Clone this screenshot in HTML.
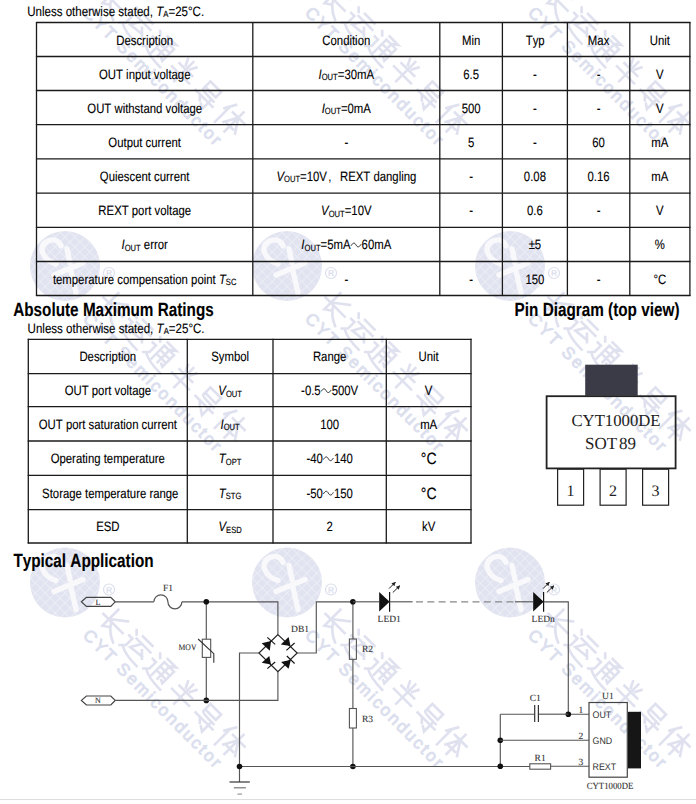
<!DOCTYPE html>
<html><head><meta charset="utf-8"><style>
html,body{margin:0;padding:0;background:#fff;width:696px;height:804px;overflow:hidden}
svg{display:block;font-kerning:none;text-rendering:geometricPrecision}
text{white-space:pre}
</style></head><body>
<svg width="696" height="804" viewBox="0 0 696 804" xml:space="preserve">
<rect width="696" height="804" fill="#fff"/>
<defs><pattern id="hatch" patternUnits="userSpaceOnUse" width="7" height="7" patternTransform="rotate(45)"><rect width="7" height="7" fill="#e1e3f0"/><path d="M0,0 H7 M0,0 V7" stroke="#eef0f7" stroke-width="1.6"/></pattern></defs>
<g transform="translate(65,-40)">
<circle cx="0" cy="0" r="35" fill="url(#hatch)"/>
<path d="M-9,-2 C-22,-6 -27,-18 -19,-24 C-13,-28 -6,-26 -4,-20 M2,-17 L5,-3 M-11,9 L18,-3 M6,5 L11,27" fill="none" stroke="#f9f9fc" stroke-width="5.4" stroke-linecap="round" stroke-linejoin="round"/>
<circle cx="44" cy="7" r="5.5" fill="none" stroke="#dcdfee" stroke-width="1.2"/>
<text x="44" y="10.3" text-anchor="middle" font-family='"Liberation Sans", sans-serif' font-size="8.5" font-weight="bold" fill="#dcdfee">R</text>
<g transform="rotate(45)">
<path transform="translate(48.0,-20) scale(1.5)" d="M6,1 V16 L9,14 M16,2 L7,9 M1,10 H19 M9,11 Q12,16 19,19" fill="none" stroke="#dfe1ef" stroke-width="1.75" stroke-linecap="square"/>
<path transform="translate(81.3,-20) scale(1.5)" d="M8,2 H17 M6,6 H19 M11,6 L7,13 L17,12 M14,9 L18,13 M2,2 L4,4 M1,8 H4 V14 L1,17 M3,16 Q8,19 19,19" fill="none" stroke="#dfe1ef" stroke-width="1.75" stroke-linecap="square"/>
<path transform="translate(114.6,-20) scale(1.5)" d="M8,1 H16 L12,4 M8,4 H17 V15 L15,14 M8,4 V16 M8,8 H17 M8,11.5 H17 M12.5,4 V15 M2,2 L4,4 M1,8 H4 V14 L1,17 M3,16 Q8,19 19,19" fill="none" stroke="#dfe1ef" stroke-width="1.75" stroke-linecap="square"/>
<path transform="translate(147.89999999999998,-20) scale(1.5)" d="M6,2 L8,6 M14,2 L12,6 M4,8 H16 M2,13 H18 M10,1 V19" fill="none" stroke="#dfe1ef" stroke-width="1.75" stroke-linecap="square"/>
<path transform="translate(181.2,-20) scale(1.5)" d="M5,2 H15 V7 H5 V2 M5,7 V9 Q5,10 16,10 M2,13 H18 M14,11 V19 L11,17 M7,14 L9,16" fill="none" stroke="#dfe1ef" stroke-width="1.75" stroke-linecap="square"/>
<path transform="translate(214.5,-20) scale(1.5)" d="M6,1 L2,8 M4,6 V19 M8,6 H19 M13,1 V19 M13,6 L8,15 M13,6 L19,15 M10,14 H16" fill="none" stroke="#dfe1ef" stroke-width="1.75" stroke-linecap="square"/>
<text x="50" y="26" font-family='"Liberation Sans", sans-serif' font-size="17" fill="#dcdfee" letter-spacing="2.2" stroke="#dcdfee" stroke-width="0.9">CYT Semiconductor</text>
</g></g>
<g transform="translate(65,266)">
<circle cx="0" cy="0" r="35" fill="url(#hatch)"/>
<path d="M-9,-2 C-22,-6 -27,-18 -19,-24 C-13,-28 -6,-26 -4,-20 M2,-17 L5,-3 M-11,9 L18,-3 M6,5 L11,27" fill="none" stroke="#f9f9fc" stroke-width="5.4" stroke-linecap="round" stroke-linejoin="round"/>
<circle cx="44" cy="7" r="5.5" fill="none" stroke="#dcdfee" stroke-width="1.2"/>
<text x="44" y="10.3" text-anchor="middle" font-family='"Liberation Sans", sans-serif' font-size="8.5" font-weight="bold" fill="#dcdfee">R</text>
<g transform="rotate(45)">
<path transform="translate(48.0,-20) scale(1.5)" d="M6,1 V16 L9,14 M16,2 L7,9 M1,10 H19 M9,11 Q12,16 19,19" fill="none" stroke="#dfe1ef" stroke-width="1.75" stroke-linecap="square"/>
<path transform="translate(81.3,-20) scale(1.5)" d="M8,2 H17 M6,6 H19 M11,6 L7,13 L17,12 M14,9 L18,13 M2,2 L4,4 M1,8 H4 V14 L1,17 M3,16 Q8,19 19,19" fill="none" stroke="#dfe1ef" stroke-width="1.75" stroke-linecap="square"/>
<path transform="translate(114.6,-20) scale(1.5)" d="M8,1 H16 L12,4 M8,4 H17 V15 L15,14 M8,4 V16 M8,8 H17 M8,11.5 H17 M12.5,4 V15 M2,2 L4,4 M1,8 H4 V14 L1,17 M3,16 Q8,19 19,19" fill="none" stroke="#dfe1ef" stroke-width="1.75" stroke-linecap="square"/>
<path transform="translate(147.89999999999998,-20) scale(1.5)" d="M6,2 L8,6 M14,2 L12,6 M4,8 H16 M2,13 H18 M10,1 V19" fill="none" stroke="#dfe1ef" stroke-width="1.75" stroke-linecap="square"/>
<path transform="translate(181.2,-20) scale(1.5)" d="M5,2 H15 V7 H5 V2 M5,7 V9 Q5,10 16,10 M2,13 H18 M14,11 V19 L11,17 M7,14 L9,16" fill="none" stroke="#dfe1ef" stroke-width="1.75" stroke-linecap="square"/>
<path transform="translate(214.5,-20) scale(1.5)" d="M6,1 L2,8 M4,6 V19 M8,6 H19 M13,1 V19 M13,6 L8,15 M13,6 L19,15 M10,14 H16" fill="none" stroke="#dfe1ef" stroke-width="1.75" stroke-linecap="square"/>
<text x="50" y="26" font-family='"Liberation Sans", sans-serif' font-size="17" fill="#dcdfee" letter-spacing="2.2" stroke="#dcdfee" stroke-width="0.9">CYT Semiconductor</text>
</g></g>
<g transform="translate(65,582.5)">
<circle cx="0" cy="0" r="35" fill="url(#hatch)"/>
<path d="M-9,-2 C-22,-6 -27,-18 -19,-24 C-13,-28 -6,-26 -4,-20 M2,-17 L5,-3 M-11,9 L18,-3 M6,5 L11,27" fill="none" stroke="#f9f9fc" stroke-width="5.4" stroke-linecap="round" stroke-linejoin="round"/>
<circle cx="44" cy="7" r="5.5" fill="none" stroke="#dcdfee" stroke-width="1.2"/>
<text x="44" y="10.3" text-anchor="middle" font-family='"Liberation Sans", sans-serif' font-size="8.5" font-weight="bold" fill="#dcdfee">R</text>
<g transform="rotate(45)">
<path transform="translate(48.0,-20) scale(1.5)" d="M6,1 V16 L9,14 M16,2 L7,9 M1,10 H19 M9,11 Q12,16 19,19" fill="none" stroke="#dfe1ef" stroke-width="1.75" stroke-linecap="square"/>
<path transform="translate(81.3,-20) scale(1.5)" d="M8,2 H17 M6,6 H19 M11,6 L7,13 L17,12 M14,9 L18,13 M2,2 L4,4 M1,8 H4 V14 L1,17 M3,16 Q8,19 19,19" fill="none" stroke="#dfe1ef" stroke-width="1.75" stroke-linecap="square"/>
<path transform="translate(114.6,-20) scale(1.5)" d="M8,1 H16 L12,4 M8,4 H17 V15 L15,14 M8,4 V16 M8,8 H17 M8,11.5 H17 M12.5,4 V15 M2,2 L4,4 M1,8 H4 V14 L1,17 M3,16 Q8,19 19,19" fill="none" stroke="#dfe1ef" stroke-width="1.75" stroke-linecap="square"/>
<path transform="translate(147.89999999999998,-20) scale(1.5)" d="M6,2 L8,6 M14,2 L12,6 M4,8 H16 M2,13 H18 M10,1 V19" fill="none" stroke="#dfe1ef" stroke-width="1.75" stroke-linecap="square"/>
<path transform="translate(181.2,-20) scale(1.5)" d="M5,2 H15 V7 H5 V2 M5,7 V9 Q5,10 16,10 M2,13 H18 M14,11 V19 L11,17 M7,14 L9,16" fill="none" stroke="#dfe1ef" stroke-width="1.75" stroke-linecap="square"/>
<path transform="translate(214.5,-20) scale(1.5)" d="M6,1 L2,8 M4,6 V19 M8,6 H19 M13,1 V19 M13,6 L8,15 M13,6 L19,15 M10,14 H16" fill="none" stroke="#dfe1ef" stroke-width="1.75" stroke-linecap="square"/>
<text x="50" y="26" font-family='"Liberation Sans", sans-serif' font-size="17" fill="#dcdfee" letter-spacing="2.2" stroke="#dcdfee" stroke-width="0.9">CYT Semiconductor</text>
</g></g>
<g transform="translate(287,-40)">
<circle cx="0" cy="0" r="35" fill="url(#hatch)"/>
<path d="M-9,-2 C-22,-6 -27,-18 -19,-24 C-13,-28 -6,-26 -4,-20 M2,-17 L5,-3 M-11,9 L18,-3 M6,5 L11,27" fill="none" stroke="#f9f9fc" stroke-width="5.4" stroke-linecap="round" stroke-linejoin="round"/>
<circle cx="44" cy="7" r="5.5" fill="none" stroke="#dcdfee" stroke-width="1.2"/>
<text x="44" y="10.3" text-anchor="middle" font-family='"Liberation Sans", sans-serif' font-size="8.5" font-weight="bold" fill="#dcdfee">R</text>
<g transform="rotate(45)">
<path transform="translate(48.0,-20) scale(1.5)" d="M6,1 V16 L9,14 M16,2 L7,9 M1,10 H19 M9,11 Q12,16 19,19" fill="none" stroke="#dfe1ef" stroke-width="1.75" stroke-linecap="square"/>
<path transform="translate(81.3,-20) scale(1.5)" d="M8,2 H17 M6,6 H19 M11,6 L7,13 L17,12 M14,9 L18,13 M2,2 L4,4 M1,8 H4 V14 L1,17 M3,16 Q8,19 19,19" fill="none" stroke="#dfe1ef" stroke-width="1.75" stroke-linecap="square"/>
<path transform="translate(114.6,-20) scale(1.5)" d="M8,1 H16 L12,4 M8,4 H17 V15 L15,14 M8,4 V16 M8,8 H17 M8,11.5 H17 M12.5,4 V15 M2,2 L4,4 M1,8 H4 V14 L1,17 M3,16 Q8,19 19,19" fill="none" stroke="#dfe1ef" stroke-width="1.75" stroke-linecap="square"/>
<path transform="translate(147.89999999999998,-20) scale(1.5)" d="M6,2 L8,6 M14,2 L12,6 M4,8 H16 M2,13 H18 M10,1 V19" fill="none" stroke="#dfe1ef" stroke-width="1.75" stroke-linecap="square"/>
<path transform="translate(181.2,-20) scale(1.5)" d="M5,2 H15 V7 H5 V2 M5,7 V9 Q5,10 16,10 M2,13 H18 M14,11 V19 L11,17 M7,14 L9,16" fill="none" stroke="#dfe1ef" stroke-width="1.75" stroke-linecap="square"/>
<path transform="translate(214.5,-20) scale(1.5)" d="M6,1 L2,8 M4,6 V19 M8,6 H19 M13,1 V19 M13,6 L8,15 M13,6 L19,15 M10,14 H16" fill="none" stroke="#dfe1ef" stroke-width="1.75" stroke-linecap="square"/>
<text x="50" y="26" font-family='"Liberation Sans", sans-serif' font-size="17" fill="#dcdfee" letter-spacing="2.2" stroke="#dcdfee" stroke-width="0.9">CYT Semiconductor</text>
</g></g>
<g transform="translate(287,266)">
<circle cx="0" cy="0" r="35" fill="url(#hatch)"/>
<path d="M-9,-2 C-22,-6 -27,-18 -19,-24 C-13,-28 -6,-26 -4,-20 M2,-17 L5,-3 M-11,9 L18,-3 M6,5 L11,27" fill="none" stroke="#f9f9fc" stroke-width="5.4" stroke-linecap="round" stroke-linejoin="round"/>
<circle cx="44" cy="7" r="5.5" fill="none" stroke="#dcdfee" stroke-width="1.2"/>
<text x="44" y="10.3" text-anchor="middle" font-family='"Liberation Sans", sans-serif' font-size="8.5" font-weight="bold" fill="#dcdfee">R</text>
<g transform="rotate(45)">
<path transform="translate(48.0,-20) scale(1.5)" d="M6,1 V16 L9,14 M16,2 L7,9 M1,10 H19 M9,11 Q12,16 19,19" fill="none" stroke="#dfe1ef" stroke-width="1.75" stroke-linecap="square"/>
<path transform="translate(81.3,-20) scale(1.5)" d="M8,2 H17 M6,6 H19 M11,6 L7,13 L17,12 M14,9 L18,13 M2,2 L4,4 M1,8 H4 V14 L1,17 M3,16 Q8,19 19,19" fill="none" stroke="#dfe1ef" stroke-width="1.75" stroke-linecap="square"/>
<path transform="translate(114.6,-20) scale(1.5)" d="M8,1 H16 L12,4 M8,4 H17 V15 L15,14 M8,4 V16 M8,8 H17 M8,11.5 H17 M12.5,4 V15 M2,2 L4,4 M1,8 H4 V14 L1,17 M3,16 Q8,19 19,19" fill="none" stroke="#dfe1ef" stroke-width="1.75" stroke-linecap="square"/>
<path transform="translate(147.89999999999998,-20) scale(1.5)" d="M6,2 L8,6 M14,2 L12,6 M4,8 H16 M2,13 H18 M10,1 V19" fill="none" stroke="#dfe1ef" stroke-width="1.75" stroke-linecap="square"/>
<path transform="translate(181.2,-20) scale(1.5)" d="M5,2 H15 V7 H5 V2 M5,7 V9 Q5,10 16,10 M2,13 H18 M14,11 V19 L11,17 M7,14 L9,16" fill="none" stroke="#dfe1ef" stroke-width="1.75" stroke-linecap="square"/>
<path transform="translate(214.5,-20) scale(1.5)" d="M6,1 L2,8 M4,6 V19 M8,6 H19 M13,1 V19 M13,6 L8,15 M13,6 L19,15 M10,14 H16" fill="none" stroke="#dfe1ef" stroke-width="1.75" stroke-linecap="square"/>
<text x="50" y="26" font-family='"Liberation Sans", sans-serif' font-size="17" fill="#dcdfee" letter-spacing="2.2" stroke="#dcdfee" stroke-width="0.9">CYT Semiconductor</text>
</g></g>
<g transform="translate(287,582.5)">
<circle cx="0" cy="0" r="35" fill="url(#hatch)"/>
<path d="M-9,-2 C-22,-6 -27,-18 -19,-24 C-13,-28 -6,-26 -4,-20 M2,-17 L5,-3 M-11,9 L18,-3 M6,5 L11,27" fill="none" stroke="#f9f9fc" stroke-width="5.4" stroke-linecap="round" stroke-linejoin="round"/>
<circle cx="44" cy="7" r="5.5" fill="none" stroke="#dcdfee" stroke-width="1.2"/>
<text x="44" y="10.3" text-anchor="middle" font-family='"Liberation Sans", sans-serif' font-size="8.5" font-weight="bold" fill="#dcdfee">R</text>
<g transform="rotate(45)">
<path transform="translate(48.0,-20) scale(1.5)" d="M6,1 V16 L9,14 M16,2 L7,9 M1,10 H19 M9,11 Q12,16 19,19" fill="none" stroke="#dfe1ef" stroke-width="1.75" stroke-linecap="square"/>
<path transform="translate(81.3,-20) scale(1.5)" d="M8,2 H17 M6,6 H19 M11,6 L7,13 L17,12 M14,9 L18,13 M2,2 L4,4 M1,8 H4 V14 L1,17 M3,16 Q8,19 19,19" fill="none" stroke="#dfe1ef" stroke-width="1.75" stroke-linecap="square"/>
<path transform="translate(114.6,-20) scale(1.5)" d="M8,1 H16 L12,4 M8,4 H17 V15 L15,14 M8,4 V16 M8,8 H17 M8,11.5 H17 M12.5,4 V15 M2,2 L4,4 M1,8 H4 V14 L1,17 M3,16 Q8,19 19,19" fill="none" stroke="#dfe1ef" stroke-width="1.75" stroke-linecap="square"/>
<path transform="translate(147.89999999999998,-20) scale(1.5)" d="M6,2 L8,6 M14,2 L12,6 M4,8 H16 M2,13 H18 M10,1 V19" fill="none" stroke="#dfe1ef" stroke-width="1.75" stroke-linecap="square"/>
<path transform="translate(181.2,-20) scale(1.5)" d="M5,2 H15 V7 H5 V2 M5,7 V9 Q5,10 16,10 M2,13 H18 M14,11 V19 L11,17 M7,14 L9,16" fill="none" stroke="#dfe1ef" stroke-width="1.75" stroke-linecap="square"/>
<path transform="translate(214.5,-20) scale(1.5)" d="M6,1 L2,8 M4,6 V19 M8,6 H19 M13,1 V19 M13,6 L8,15 M13,6 L19,15 M10,14 H16" fill="none" stroke="#dfe1ef" stroke-width="1.75" stroke-linecap="square"/>
<text x="50" y="26" font-family='"Liberation Sans", sans-serif' font-size="17" fill="#dcdfee" letter-spacing="2.2" stroke="#dcdfee" stroke-width="0.9">CYT Semiconductor</text>
</g></g>
<g transform="translate(510,-40)">
<circle cx="0" cy="0" r="35" fill="url(#hatch)"/>
<path d="M-9,-2 C-22,-6 -27,-18 -19,-24 C-13,-28 -6,-26 -4,-20 M2,-17 L5,-3 M-11,9 L18,-3 M6,5 L11,27" fill="none" stroke="#f9f9fc" stroke-width="5.4" stroke-linecap="round" stroke-linejoin="round"/>
<circle cx="44" cy="7" r="5.5" fill="none" stroke="#dcdfee" stroke-width="1.2"/>
<text x="44" y="10.3" text-anchor="middle" font-family='"Liberation Sans", sans-serif' font-size="8.5" font-weight="bold" fill="#dcdfee">R</text>
<g transform="rotate(45)">
<path transform="translate(48.0,-20) scale(1.5)" d="M6,1 V16 L9,14 M16,2 L7,9 M1,10 H19 M9,11 Q12,16 19,19" fill="none" stroke="#dfe1ef" stroke-width="1.75" stroke-linecap="square"/>
<path transform="translate(81.3,-20) scale(1.5)" d="M8,2 H17 M6,6 H19 M11,6 L7,13 L17,12 M14,9 L18,13 M2,2 L4,4 M1,8 H4 V14 L1,17 M3,16 Q8,19 19,19" fill="none" stroke="#dfe1ef" stroke-width="1.75" stroke-linecap="square"/>
<path transform="translate(114.6,-20) scale(1.5)" d="M8,1 H16 L12,4 M8,4 H17 V15 L15,14 M8,4 V16 M8,8 H17 M8,11.5 H17 M12.5,4 V15 M2,2 L4,4 M1,8 H4 V14 L1,17 M3,16 Q8,19 19,19" fill="none" stroke="#dfe1ef" stroke-width="1.75" stroke-linecap="square"/>
<path transform="translate(147.89999999999998,-20) scale(1.5)" d="M6,2 L8,6 M14,2 L12,6 M4,8 H16 M2,13 H18 M10,1 V19" fill="none" stroke="#dfe1ef" stroke-width="1.75" stroke-linecap="square"/>
<path transform="translate(181.2,-20) scale(1.5)" d="M5,2 H15 V7 H5 V2 M5,7 V9 Q5,10 16,10 M2,13 H18 M14,11 V19 L11,17 M7,14 L9,16" fill="none" stroke="#dfe1ef" stroke-width="1.75" stroke-linecap="square"/>
<path transform="translate(214.5,-20) scale(1.5)" d="M6,1 L2,8 M4,6 V19 M8,6 H19 M13,1 V19 M13,6 L8,15 M13,6 L19,15 M10,14 H16" fill="none" stroke="#dfe1ef" stroke-width="1.75" stroke-linecap="square"/>
<text x="50" y="26" font-family='"Liberation Sans", sans-serif' font-size="17" fill="#dcdfee" letter-spacing="2.2" stroke="#dcdfee" stroke-width="0.9">CYT Semiconductor</text>
</g></g>
<g transform="translate(510,266)">
<circle cx="0" cy="0" r="35" fill="url(#hatch)"/>
<path d="M-9,-2 C-22,-6 -27,-18 -19,-24 C-13,-28 -6,-26 -4,-20 M2,-17 L5,-3 M-11,9 L18,-3 M6,5 L11,27" fill="none" stroke="#f9f9fc" stroke-width="5.4" stroke-linecap="round" stroke-linejoin="round"/>
<circle cx="44" cy="7" r="5.5" fill="none" stroke="#dcdfee" stroke-width="1.2"/>
<text x="44" y="10.3" text-anchor="middle" font-family='"Liberation Sans", sans-serif' font-size="8.5" font-weight="bold" fill="#dcdfee">R</text>
<g transform="rotate(45)">
<path transform="translate(48.0,-20) scale(1.5)" d="M6,1 V16 L9,14 M16,2 L7,9 M1,10 H19 M9,11 Q12,16 19,19" fill="none" stroke="#dfe1ef" stroke-width="1.75" stroke-linecap="square"/>
<path transform="translate(81.3,-20) scale(1.5)" d="M8,2 H17 M6,6 H19 M11,6 L7,13 L17,12 M14,9 L18,13 M2,2 L4,4 M1,8 H4 V14 L1,17 M3,16 Q8,19 19,19" fill="none" stroke="#dfe1ef" stroke-width="1.75" stroke-linecap="square"/>
<path transform="translate(114.6,-20) scale(1.5)" d="M8,1 H16 L12,4 M8,4 H17 V15 L15,14 M8,4 V16 M8,8 H17 M8,11.5 H17 M12.5,4 V15 M2,2 L4,4 M1,8 H4 V14 L1,17 M3,16 Q8,19 19,19" fill="none" stroke="#dfe1ef" stroke-width="1.75" stroke-linecap="square"/>
<path transform="translate(147.89999999999998,-20) scale(1.5)" d="M6,2 L8,6 M14,2 L12,6 M4,8 H16 M2,13 H18 M10,1 V19" fill="none" stroke="#dfe1ef" stroke-width="1.75" stroke-linecap="square"/>
<path transform="translate(181.2,-20) scale(1.5)" d="M5,2 H15 V7 H5 V2 M5,7 V9 Q5,10 16,10 M2,13 H18 M14,11 V19 L11,17 M7,14 L9,16" fill="none" stroke="#dfe1ef" stroke-width="1.75" stroke-linecap="square"/>
<path transform="translate(214.5,-20) scale(1.5)" d="M6,1 L2,8 M4,6 V19 M8,6 H19 M13,1 V19 M13,6 L8,15 M13,6 L19,15 M10,14 H16" fill="none" stroke="#dfe1ef" stroke-width="1.75" stroke-linecap="square"/>
<text x="50" y="26" font-family='"Liberation Sans", sans-serif' font-size="17" fill="#dcdfee" letter-spacing="2.2" stroke="#dcdfee" stroke-width="0.9">CYT Semiconductor</text>
</g></g>
<g transform="translate(510,582.5)">
<circle cx="0" cy="0" r="35" fill="url(#hatch)"/>
<path d="M-9,-2 C-22,-6 -27,-18 -19,-24 C-13,-28 -6,-26 -4,-20 M2,-17 L5,-3 M-11,9 L18,-3 M6,5 L11,27" fill="none" stroke="#f9f9fc" stroke-width="5.4" stroke-linecap="round" stroke-linejoin="round"/>
<circle cx="44" cy="7" r="5.5" fill="none" stroke="#dcdfee" stroke-width="1.2"/>
<text x="44" y="10.3" text-anchor="middle" font-family='"Liberation Sans", sans-serif' font-size="8.5" font-weight="bold" fill="#dcdfee">R</text>
<g transform="rotate(45)">
<path transform="translate(48.0,-20) scale(1.5)" d="M6,1 V16 L9,14 M16,2 L7,9 M1,10 H19 M9,11 Q12,16 19,19" fill="none" stroke="#dfe1ef" stroke-width="1.75" stroke-linecap="square"/>
<path transform="translate(81.3,-20) scale(1.5)" d="M8,2 H17 M6,6 H19 M11,6 L7,13 L17,12 M14,9 L18,13 M2,2 L4,4 M1,8 H4 V14 L1,17 M3,16 Q8,19 19,19" fill="none" stroke="#dfe1ef" stroke-width="1.75" stroke-linecap="square"/>
<path transform="translate(114.6,-20) scale(1.5)" d="M8,1 H16 L12,4 M8,4 H17 V15 L15,14 M8,4 V16 M8,8 H17 M8,11.5 H17 M12.5,4 V15 M2,2 L4,4 M1,8 H4 V14 L1,17 M3,16 Q8,19 19,19" fill="none" stroke="#dfe1ef" stroke-width="1.75" stroke-linecap="square"/>
<path transform="translate(147.89999999999998,-20) scale(1.5)" d="M6,2 L8,6 M14,2 L12,6 M4,8 H16 M2,13 H18 M10,1 V19" fill="none" stroke="#dfe1ef" stroke-width="1.75" stroke-linecap="square"/>
<path transform="translate(181.2,-20) scale(1.5)" d="M5,2 H15 V7 H5 V2 M5,7 V9 Q5,10 16,10 M2,13 H18 M14,11 V19 L11,17 M7,14 L9,16" fill="none" stroke="#dfe1ef" stroke-width="1.75" stroke-linecap="square"/>
<path transform="translate(214.5,-20) scale(1.5)" d="M6,1 L2,8 M4,6 V19 M8,6 H19 M13,1 V19 M13,6 L8,15 M13,6 L19,15 M10,14 H16" fill="none" stroke="#dfe1ef" stroke-width="1.75" stroke-linecap="square"/>
<text x="50" y="26" font-family='"Liberation Sans", sans-serif' font-size="17" fill="#dcdfee" letter-spacing="2.2" stroke="#dcdfee" stroke-width="0.9">CYT Semiconductor</text>
</g></g>
<text transform="translate(27.20,15.60) scale(0.849,1)" font-family='"Liberation Sans", sans-serif' font-size="13.60" fill="#000" stroke="#000" stroke-width="0.12">Unless otherwise stated, </text>
<text transform="translate(156.20,15.60) scale(0.849,1)" font-family='"Liberation Sans", sans-serif' font-size="13.60" font-style="italic" fill="#000" stroke="#000" stroke-width="0.12">T</text>
<text transform="translate(163.25,17.00) scale(0.849,1)" font-family='"Liberation Sans", sans-serif' font-size="9.11" fill="#000" stroke="#000" stroke-width="0.15">A</text>
<text transform="translate(168.41,15.60) scale(0.849,1)" font-family='"Liberation Sans", sans-serif' font-size="13.60" fill="#000" stroke="#000" stroke-width="0.12">=25°C.</text>
<line x1="36.5" y1="21.9" x2="36.5" y2="296.1" stroke="#1a1a1a" stroke-width="1.3"/>
<line x1="252.8" y1="21.9" x2="252.8" y2="296.1" stroke="#1a1a1a" stroke-width="1.3"/>
<line x1="439.8" y1="21.9" x2="439.8" y2="296.1" stroke="#1a1a1a" stroke-width="1.3"/>
<line x1="502.4" y1="21.9" x2="502.4" y2="296.1" stroke="#1a1a1a" stroke-width="1.3"/>
<line x1="567.4" y1="21.9" x2="567.4" y2="296.1" stroke="#1a1a1a" stroke-width="1.3"/>
<line x1="629.8" y1="21.9" x2="629.8" y2="296.1" stroke="#1a1a1a" stroke-width="1.3"/>
<line x1="689.9" y1="21.9" x2="689.9" y2="296.1" stroke="#1a1a1a" stroke-width="1.3"/>
<line x1="35.9" y1="22.5" x2="690.5" y2="22.5" stroke="#1a1a1a" stroke-width="1.3"/>
<line x1="35.9" y1="56.5" x2="690.5" y2="56.5" stroke="#1a1a1a" stroke-width="1.3"/>
<line x1="35.9" y1="90.5" x2="690.5" y2="90.5" stroke="#1a1a1a" stroke-width="1.3"/>
<line x1="35.9" y1="124.7" x2="690.5" y2="124.7" stroke="#1a1a1a" stroke-width="1.3"/>
<line x1="35.9" y1="158.9" x2="690.5" y2="158.9" stroke="#1a1a1a" stroke-width="1.3"/>
<line x1="35.9" y1="193.1" x2="690.5" y2="193.1" stroke="#1a1a1a" stroke-width="1.3"/>
<line x1="35.9" y1="227.3" x2="690.5" y2="227.3" stroke="#1a1a1a" stroke-width="1.3"/>
<line x1="35.9" y1="261.5" x2="690.5" y2="261.5" stroke="#1a1a1a" stroke-width="1.3"/>
<line x1="35.9" y1="295.5" x2="690.5" y2="295.5" stroke="#1a1a1a" stroke-width="1.3"/>
<text transform="translate(116.25,44.50) scale(0.835,1)" font-family='"Liberation Sans", sans-serif' font-size="13.60" fill="#000" stroke="#000" stroke-width="0.12">Description</text>
<text transform="translate(322.31,44.50) scale(0.835,1)" font-family='"Liberation Sans", sans-serif' font-size="13.60" fill="#000" stroke="#000" stroke-width="0.12">Condition</text>
<text transform="translate(461.95,44.50) scale(0.835,1)" font-family='"Liberation Sans", sans-serif' font-size="13.60" fill="#000" stroke="#000" stroke-width="0.12">Min</text>
<text transform="translate(525.75,44.50) scale(0.835,1)" font-family='"Liberation Sans", sans-serif' font-size="13.60" fill="#000" stroke="#000" stroke-width="0.12">Typ</text>
<text transform="translate(587.87,44.50) scale(0.835,1)" font-family='"Liberation Sans", sans-serif' font-size="13.60" fill="#000" stroke="#000" stroke-width="0.12">Max</text>
<text transform="translate(649.75,44.50) scale(0.835,1)" font-family='"Liberation Sans", sans-serif' font-size="13.60" fill="#000" stroke="#000" stroke-width="0.12">Unit</text>
<text transform="translate(98.99,78.50) scale(0.835,1)" font-family='"Liberation Sans", sans-serif' font-size="13.60" fill="#000" stroke="#000" stroke-width="0.12">OUT input voltage</text>
<text transform="translate(318.54,78.50) scale(0.835,1)" font-family='"Liberation Sans", sans-serif' font-size="13.60" font-style="italic" fill="#000" stroke="#000" stroke-width="0.12">I</text>
<text transform="translate(321.70,79.90) scale(0.835,1)" font-family='"Liberation Sans", sans-serif' font-size="9.11" fill="#000" stroke="#000" stroke-width="0.15">OUT</text>
<text transform="translate(337.76,78.50) scale(0.835,1)" font-family='"Liberation Sans", sans-serif' font-size="13.60" fill="#000" stroke="#000" stroke-width="0.12">=30mA</text>
<text transform="translate(463.21,78.50) scale(0.835,1)" font-family='"Liberation Sans", sans-serif' font-size="13.60" fill="#000" stroke="#000" stroke-width="0.12">6.5</text>
<text transform="translate(533.01,78.50) scale(0.835,1)" font-family='"Liberation Sans", sans-serif' font-size="13.60" fill="#000" stroke="#000" stroke-width="0.12">-</text>
<text transform="translate(596.71,78.50) scale(0.835,1)" font-family='"Liberation Sans", sans-serif' font-size="13.60" fill="#000" stroke="#000" stroke-width="0.12">-</text>
<text transform="translate(656.06,78.50) scale(0.835,1)" font-family='"Liberation Sans", sans-serif' font-size="13.60" fill="#000" stroke="#000" stroke-width="0.12">V</text>
<text transform="translate(87.32,112.60) scale(0.835,1)" font-family='"Liberation Sans", sans-serif' font-size="13.60" fill="#000" stroke="#000" stroke-width="0.12">OUT withstand voltage</text>
<text transform="translate(321.70,112.60) scale(0.835,1)" font-family='"Liberation Sans", sans-serif' font-size="13.60" font-style="italic" fill="#000" stroke="#000" stroke-width="0.12">I</text>
<text transform="translate(324.86,114.00) scale(0.835,1)" font-family='"Liberation Sans", sans-serif' font-size="9.11" fill="#000" stroke="#000" stroke-width="0.15">OUT</text>
<text transform="translate(340.92,112.60) scale(0.835,1)" font-family='"Liberation Sans", sans-serif' font-size="13.60" fill="#000" stroke="#000" stroke-width="0.12">=0mA</text>
<text transform="translate(461.63,112.60) scale(0.835,1)" font-family='"Liberation Sans", sans-serif' font-size="13.60" fill="#000" stroke="#000" stroke-width="0.12">500</text>
<text transform="translate(533.01,112.60) scale(0.835,1)" font-family='"Liberation Sans", sans-serif' font-size="13.60" fill="#000" stroke="#000" stroke-width="0.12">-</text>
<text transform="translate(596.71,112.60) scale(0.835,1)" font-family='"Liberation Sans", sans-serif' font-size="13.60" fill="#000" stroke="#000" stroke-width="0.12">-</text>
<text transform="translate(656.06,112.60) scale(0.835,1)" font-family='"Liberation Sans", sans-serif' font-size="13.60" fill="#000" stroke="#000" stroke-width="0.12">V</text>
<text transform="translate(108.36,146.80) scale(0.835,1)" font-family='"Liberation Sans", sans-serif' font-size="13.60" fill="#000" stroke="#000" stroke-width="0.12">Output current</text>
<text transform="translate(344.41,146.80) scale(0.835,1)" font-family='"Liberation Sans", sans-serif' font-size="13.60" fill="#000" stroke="#000" stroke-width="0.12">-</text>
<text transform="translate(467.94,146.80) scale(0.835,1)" font-family='"Liberation Sans", sans-serif' font-size="13.60" fill="#000" stroke="#000" stroke-width="0.12">5</text>
<text transform="translate(533.01,146.80) scale(0.835,1)" font-family='"Liberation Sans", sans-serif' font-size="13.60" fill="#000" stroke="#000" stroke-width="0.12">-</text>
<text transform="translate(592.28,146.80) scale(0.835,1)" font-family='"Liberation Sans", sans-serif' font-size="13.60" fill="#000" stroke="#000" stroke-width="0.12">60</text>
<text transform="translate(651.33,146.80) scale(0.835,1)" font-family='"Liberation Sans", sans-serif' font-size="13.60" fill="#000" stroke="#000" stroke-width="0.12">mA</text>
<text transform="translate(99.84,181.00) scale(0.835,1)" font-family='"Liberation Sans", sans-serif' font-size="13.60" fill="#000" stroke="#000" stroke-width="0.12">Quiescent current</text>
<text transform="translate(276.48,181.00) scale(0.835,1)" font-family='"Liberation Sans", sans-serif' font-size="13.60" font-style="italic" fill="#000" stroke="#000" stroke-width="0.12">V</text>
<text transform="translate(284.05,182.40) scale(0.835,1)" font-family='"Liberation Sans", sans-serif' font-size="9.11" fill="#000" stroke="#000" stroke-width="0.15">OUT</text>
<text transform="translate(300.11,181.00) scale(0.835,1)" font-family='"Liberation Sans", sans-serif' font-size="13.60" fill="#000" stroke="#000" stroke-width="0.12">=10V</text>
<text transform="translate(328.15,181.00) scale(0.835,1)" font-family='"Liberation Sans", sans-serif' font-size="13.6" fill="#000">,</text>
<text transform="translate(339.95,181.00) scale(0.835,1)" font-family='"Liberation Sans", sans-serif' font-size="13.60" fill="#000" stroke="#000" stroke-width="0.12">REXT dangling</text>
<text transform="translate(469.21,181.00) scale(0.835,1)" font-family='"Liberation Sans", sans-serif' font-size="13.60" fill="#000" stroke="#000" stroke-width="0.12">-</text>
<text transform="translate(523.85,181.00) scale(0.835,1)" font-family='"Liberation Sans", sans-serif' font-size="13.60" fill="#000" stroke="#000" stroke-width="0.12">0.08</text>
<text transform="translate(587.55,181.00) scale(0.835,1)" font-family='"Liberation Sans", sans-serif' font-size="13.60" fill="#000" stroke="#000" stroke-width="0.12">0.16</text>
<text transform="translate(651.33,181.00) scale(0.835,1)" font-family='"Liberation Sans", sans-serif' font-size="13.60" fill="#000" stroke="#000" stroke-width="0.12">mA</text>
<text transform="translate(98.36,215.20) scale(0.835,1)" font-family='"Liberation Sans", sans-serif' font-size="13.60" fill="#000" stroke="#000" stroke-width="0.12">REXT port voltage</text>
<text transform="translate(321.06,215.20) scale(0.835,1)" font-family='"Liberation Sans", sans-serif' font-size="13.60" font-style="italic" fill="#000" stroke="#000" stroke-width="0.12">V</text>
<text transform="translate(328.64,216.60) scale(0.835,1)" font-family='"Liberation Sans", sans-serif' font-size="9.11" fill="#000" stroke="#000" stroke-width="0.15">OUT</text>
<text transform="translate(344.70,215.20) scale(0.835,1)" font-family='"Liberation Sans", sans-serif' font-size="13.60" fill="#000" stroke="#000" stroke-width="0.12">=10V</text>
<text transform="translate(469.21,215.20) scale(0.835,1)" font-family='"Liberation Sans", sans-serif' font-size="13.60" fill="#000" stroke="#000" stroke-width="0.12">-</text>
<text transform="translate(527.01,215.20) scale(0.835,1)" font-family='"Liberation Sans", sans-serif' font-size="13.60" fill="#000" stroke="#000" stroke-width="0.12">0.6</text>
<text transform="translate(596.71,215.20) scale(0.835,1)" font-family='"Liberation Sans", sans-serif' font-size="13.60" fill="#000" stroke="#000" stroke-width="0.12">-</text>
<text transform="translate(656.06,215.20) scale(0.835,1)" font-family='"Liberation Sans", sans-serif' font-size="13.60" fill="#000" stroke="#000" stroke-width="0.12">V</text>
<text transform="translate(121.48,249.40) scale(0.835,1)" font-family='"Liberation Sans", sans-serif' font-size="13.60" font-style="italic" fill="#000" stroke="#000" stroke-width="0.12">I</text>
<text transform="translate(124.63,250.80) scale(0.835,1)" font-family='"Liberation Sans", sans-serif' font-size="9.11" fill="#000" stroke="#000" stroke-width="0.15">OUT</text>
<text transform="translate(140.69,249.40) scale(0.835,1)" font-family='"Liberation Sans", sans-serif' font-size="13.60" fill="#000" stroke="#000" stroke-width="0.12"> error</text>
<text transform="translate(301.37,249.40) scale(0.835,1)" font-family='"Liberation Sans", sans-serif' font-size="13.60" font-style="italic" fill="#000" stroke="#000" stroke-width="0.12">I</text>
<text transform="translate(304.52,250.80) scale(0.835,1)" font-family='"Liberation Sans", sans-serif' font-size="9.11" fill="#000" stroke="#000" stroke-width="0.15">OUT</text>
<text transform="translate(320.58,249.40) scale(0.835,1)" font-family='"Liberation Sans", sans-serif' font-size="13.60" fill="#000" stroke="#000" stroke-width="0.12">=5mA</text>
<path d="M351.07,245.78 C352.99,242.40 354.75,242.40 356.07,245.00 S359.15,247.60 361.07,244.22" fill="none" stroke="#000" stroke-width="0.8"/>
<text transform="translate(361.57,249.40) scale(0.835,1)" font-family='"Liberation Sans", sans-serif' font-size="13.60" fill="#000" stroke="#000" stroke-width="0.12">60mA</text>
<text transform="translate(528.63,249.40) scale(0.835,1)" font-family='"Liberation Sans", sans-serif' font-size="13.60" fill="#000" stroke="#000" stroke-width="0.12">±5</text>
<text transform="translate(654.80,249.40) scale(0.835,1)" font-family='"Liberation Sans", sans-serif' font-size="13.60" fill="#000" stroke="#000" stroke-width="0.12">%</text>
<text transform="translate(52.89,283.50) scale(0.835,1)" font-family='"Liberation Sans", sans-serif' font-size="13.60" fill="#000" stroke="#000" stroke-width="0.12">temperature compensation point </text>
<text transform="translate(218.91,283.50) scale(0.835,1)" font-family='"Liberation Sans", sans-serif' font-size="13.60" font-style="italic" fill="#000" stroke="#000" stroke-width="0.12">T</text>
<text transform="translate(225.84,284.90) scale(0.835,1)" font-family='"Liberation Sans", sans-serif' font-size="9.11" fill="#000" stroke="#000" stroke-width="0.15">SC</text>
<text transform="translate(344.41,283.50) scale(0.835,1)" font-family='"Liberation Sans", sans-serif' font-size="13.60" fill="#000" stroke="#000" stroke-width="0.12">-</text>
<text transform="translate(469.21,283.50) scale(0.835,1)" font-family='"Liberation Sans", sans-serif' font-size="13.60" fill="#000" stroke="#000" stroke-width="0.12">-</text>
<text transform="translate(525.43,283.50) scale(0.835,1)" font-family='"Liberation Sans", sans-serif' font-size="13.60" fill="#000" stroke="#000" stroke-width="0.12">150</text>
<text transform="translate(596.71,283.50) scale(0.835,1)" font-family='"Liberation Sans", sans-serif' font-size="13.60" fill="#000" stroke="#000" stroke-width="0.12">-</text>
<text transform="translate(653.48,283.50) scale(0.835,1)" font-family='"Liberation Sans", sans-serif' font-size="13.60" fill="#000" stroke="#000" stroke-width="0.12">°C</text>
<text transform="translate(13.20,315.80) scale(0.805,1)" font-family='"Liberation Sans", sans-serif' font-size="19.00" font-weight="bold" fill="#000" stroke="#000" stroke-width="0.12">Absolute Maximum Ratings</text>
<text transform="translate(514.60,315.80) scale(0.805,1)" font-family='"Liberation Sans", sans-serif' font-size="19.00" font-weight="bold" fill="#000" stroke="#000" stroke-width="0.12">Pin Diagram (top view)</text>
<text transform="translate(27.60,332.60) scale(0.849,1)" font-family='"Liberation Sans", sans-serif' font-size="13.60" fill="#000" stroke="#000" stroke-width="0.12">Unless otherwise stated, </text>
<text transform="translate(156.60,332.60) scale(0.849,1)" font-family='"Liberation Sans", sans-serif' font-size="13.60" font-style="italic" fill="#000" stroke="#000" stroke-width="0.12">T</text>
<text transform="translate(163.65,334.00) scale(0.849,1)" font-family='"Liberation Sans", sans-serif' font-size="9.11" fill="#000" stroke="#000" stroke-width="0.15">A</text>
<text transform="translate(168.81,332.60) scale(0.849,1)" font-family='"Liberation Sans", sans-serif' font-size="13.60" fill="#000" stroke="#000" stroke-width="0.12">=25°C.</text>
<line x1="28.3" y1="338.7" x2="28.3" y2="543.6" stroke="#1a1a1a" stroke-width="1.3"/>
<line x1="187.3" y1="338.7" x2="187.3" y2="543.6" stroke="#1a1a1a" stroke-width="1.3"/>
<line x1="273.0" y1="338.7" x2="273.0" y2="543.6" stroke="#1a1a1a" stroke-width="1.3"/>
<line x1="386.3" y1="338.7" x2="386.3" y2="543.6" stroke="#1a1a1a" stroke-width="1.3"/>
<line x1="471.0" y1="338.7" x2="471.0" y2="543.6" stroke="#1a1a1a" stroke-width="1.3"/>
<line x1="27.7" y1="339.3" x2="471.6" y2="339.3" stroke="#1a1a1a" stroke-width="1.3"/>
<line x1="27.7" y1="373.6" x2="471.6" y2="373.6" stroke="#1a1a1a" stroke-width="1.3"/>
<line x1="27.7" y1="406.6" x2="471.6" y2="406.6" stroke="#1a1a1a" stroke-width="1.3"/>
<line x1="27.7" y1="441.0" x2="471.6" y2="441.0" stroke="#1a1a1a" stroke-width="1.3"/>
<line x1="27.7" y1="475.4" x2="471.6" y2="475.4" stroke="#1a1a1a" stroke-width="1.3"/>
<line x1="27.7" y1="509.7" x2="471.6" y2="509.7" stroke="#1a1a1a" stroke-width="1.3"/>
<line x1="27.7" y1="543.0" x2="471.6" y2="543.0" stroke="#1a1a1a" stroke-width="1.3"/>
<text transform="translate(79.40,361.45) scale(0.835,1)" font-family='"Liberation Sans", sans-serif' font-size="13.60" fill="#000" stroke="#000" stroke-width="0.12">Description</text>
<text transform="translate(211.22,361.45) scale(0.835,1)" font-family='"Liberation Sans", sans-serif' font-size="13.60" fill="#000" stroke="#000" stroke-width="0.12">Symbol</text>
<text transform="translate(312.92,361.45) scale(0.835,1)" font-family='"Liberation Sans", sans-serif' font-size="13.60" fill="#000" stroke="#000" stroke-width="0.12">Range</text>
<text transform="translate(418.55,361.45) scale(0.835,1)" font-family='"Liberation Sans", sans-serif' font-size="13.60" fill="#000" stroke="#000" stroke-width="0.12">Unit</text>
<text transform="translate(64.67,395.10) scale(0.835,1)" font-family='"Liberation Sans", sans-serif' font-size="13.60" fill="#000" stroke="#000" stroke-width="0.12">OUT port voltage</text>
<text transform="translate(218.33,395.10) scale(0.835,1)" font-family='"Liberation Sans", sans-serif' font-size="13.60" font-style="italic" fill="#000" stroke="#000" stroke-width="0.12">V</text>
<text transform="translate(225.91,396.50) scale(0.835,1)" font-family='"Liberation Sans", sans-serif' font-size="9.11" fill="#000" stroke="#000" stroke-width="0.15">OUT</text>
<text transform="translate(301.11,395.10) scale(0.835,1)" font-family='"Liberation Sans", sans-serif' font-size="13.60" fill="#000" stroke="#000" stroke-width="0.12">-0.5</text>
<path d="M321.17,391.48 C323.09,388.10 324.85,388.10 326.17,390.70 S329.25,393.30 331.17,389.92" fill="none" stroke="#000" stroke-width="0.8"/>
<text transform="translate(331.67,395.10) scale(0.835,1)" font-family='"Liberation Sans", sans-serif' font-size="13.60" fill="#000" stroke="#000" stroke-width="0.12">500V</text>
<text transform="translate(424.86,395.10) scale(0.835,1)" font-family='"Liberation Sans", sans-serif' font-size="13.60" fill="#000" stroke="#000" stroke-width="0.12">V</text>
<text transform="translate(38.79,428.80) scale(0.835,1)" font-family='"Liberation Sans", sans-serif' font-size="13.60" fill="#000" stroke="#000" stroke-width="0.12">OUT port saturation current</text>
<text transform="translate(220.54,428.80) scale(0.835,1)" font-family='"Liberation Sans", sans-serif' font-size="13.60" font-style="italic" fill="#000" stroke="#000" stroke-width="0.12">I</text>
<text transform="translate(223.70,430.20) scale(0.835,1)" font-family='"Liberation Sans", sans-serif' font-size="9.11" fill="#000" stroke="#000" stroke-width="0.15">OUT</text>
<text transform="translate(320.18,428.80) scale(0.835,1)" font-family='"Liberation Sans", sans-serif' font-size="13.60" fill="#000" stroke="#000" stroke-width="0.12">100</text>
<text transform="translate(420.13,428.80) scale(0.835,1)" font-family='"Liberation Sans", sans-serif' font-size="13.60" fill="#000" stroke="#000" stroke-width="0.12">mA</text>
<text transform="translate(50.67,463.20) scale(0.835,1)" font-family='"Liberation Sans", sans-serif' font-size="13.60" fill="#000" stroke="#000" stroke-width="0.12">Operating temperature</text>
<text transform="translate(218.86,463.20) scale(0.835,1)" font-family='"Liberation Sans", sans-serif' font-size="13.60" font-style="italic" fill="#000" stroke="#000" stroke-width="0.12">T</text>
<text transform="translate(225.80,464.60) scale(0.835,1)" font-family='"Liberation Sans", sans-serif' font-size="9.11" fill="#000" stroke="#000" stroke-width="0.15">OPT</text>
<text transform="translate(306.47,463.20) scale(0.835,1)" font-family='"Liberation Sans", sans-serif' font-size="13.60" fill="#000" stroke="#000" stroke-width="0.12">-40</text>
<path d="M323.38,459.58 C325.30,456.20 327.06,456.20 328.38,458.80 S331.46,461.40 333.38,458.02" fill="none" stroke="#000" stroke-width="0.8"/>
<text transform="translate(333.88,463.20) scale(0.835,1)" font-family='"Liberation Sans", sans-serif' font-size="13.60" fill="#000" stroke="#000" stroke-width="0.12">140</text>
<text transform="translate(420.78,464.20) scale(0.86,1)" font-family='"Liberation Sans", sans-serif' font-size="16.32" fill="#000" stroke="#000" stroke-width="0.12">°C</text>
<text transform="translate(42.12,497.55) scale(0.835,1)" font-family='"Liberation Sans", sans-serif' font-size="13.60" fill="#000" stroke="#000" stroke-width="0.12">Storage temperature range</text>
<text transform="translate(218.86,497.55) scale(0.835,1)" font-family='"Liberation Sans", sans-serif' font-size="13.60" font-style="italic" fill="#000" stroke="#000" stroke-width="0.12">T</text>
<text transform="translate(225.80,498.95) scale(0.835,1)" font-family='"Liberation Sans", sans-serif' font-size="9.11" fill="#000" stroke="#000" stroke-width="0.15">STG</text>
<text transform="translate(306.47,497.55) scale(0.835,1)" font-family='"Liberation Sans", sans-serif' font-size="13.60" fill="#000" stroke="#000" stroke-width="0.12">-50</text>
<path d="M323.38,493.93 C325.30,490.55 327.06,490.55 328.38,493.15 S331.46,495.75 333.38,492.37" fill="none" stroke="#000" stroke-width="0.8"/>
<text transform="translate(333.88,497.55) scale(0.835,1)" font-family='"Liberation Sans", sans-serif' font-size="13.60" fill="#000" stroke="#000" stroke-width="0.12">150</text>
<text transform="translate(420.78,498.55) scale(0.86,1)" font-family='"Liberation Sans", sans-serif' font-size="16.32" fill="#000" stroke="#000" stroke-width="0.12">°C</text>
<text transform="translate(96.13,531.35) scale(0.835,1)" font-family='"Liberation Sans", sans-serif' font-size="13.60" fill="#000" stroke="#000" stroke-width="0.12">ESD</text>
<text transform="translate(218.54,531.35) scale(0.835,1)" font-family='"Liberation Sans", sans-serif' font-size="13.60" font-style="italic" fill="#000" stroke="#000" stroke-width="0.12">V</text>
<text transform="translate(226.12,532.75) scale(0.835,1)" font-family='"Liberation Sans", sans-serif' font-size="9.11" fill="#000" stroke="#000" stroke-width="0.15">ESD</text>
<text transform="translate(326.49,531.35) scale(0.835,1)" font-family='"Liberation Sans", sans-serif' font-size="13.60" fill="#000" stroke="#000" stroke-width="0.12">2</text>
<text transform="translate(422.02,531.35) scale(0.835,1)" font-family='"Liberation Sans", sans-serif' font-size="13.60" fill="#000" stroke="#000" stroke-width="0.12">kV</text>
<rect x="585.2" y="364.7" width="52.5" height="31" fill="#3b3b48"/>
<rect x="546.6" y="396.2" width="129" height="72.2" fill="none" stroke="#222" stroke-width="1.8"/>
<rect x="557.6" y="469.2" width="26" height="36" fill="none" stroke="#222" stroke-width="1.2"/>
<text transform="translate(566.60,495.50) scale(1,1)" font-family='"Liberation Serif", serif' font-size="16.00" fill="#222">1</text>
<rect x="600.1" y="469.2" width="26" height="36" fill="none" stroke="#222" stroke-width="1.2"/>
<text transform="translate(609.10,495.50) scale(1,1)" font-family='"Liberation Serif", serif' font-size="16.00" fill="#222">2</text>
<rect x="642.6" y="469.2" width="26" height="36" fill="none" stroke="#222" stroke-width="1.2"/>
<text transform="translate(651.60,495.50) scale(1,1)" font-family='"Liberation Serif", serif' font-size="16.00" fill="#222">3</text>
<text transform="translate(571.47,425.50) scale(1.0,1)" font-family='"Liberation Serif", serif' font-size="16.70" fill="#222">CYT1000DE</text>
<text transform="translate(584.94,449.20) scale(1.0,1)" font-family='"Liberation Serif", serif' font-size="17.00" fill="#222">SOT</text>
<text transform="translate(619.06,449.20) scale(1.0,1)" font-family='"Liberation Serif", serif' font-size="17.00" fill="#222">89</text>
<text transform="translate(13.40,566.50) scale(0.805,1)" font-family='"Liberation Sans", sans-serif' font-size="19.00" font-weight="bold" fill="#000" stroke="#000" stroke-width="0.12">Typical Application</text>
<path d="M81.4,601.8 L86.4,597.4 L110.8,597.4 L115.2,601.8 L110.8,606.4 L86.4,606.4 Z" fill="none" stroke="#444" stroke-width="1.2"/>
<text transform="translate(95.56,604.80) scale(1.0,1)" font-family='"Liberation Serif", serif' font-size="8.00" fill="#333" stroke="#333" stroke-width="0.12">L</text>
<path d="M81.4,700.4 L86.4,696.0 L110.8,696.0 L115.2,700.4 L110.8,705.0 L86.4,705.0 Z" fill="none" stroke="#444" stroke-width="1.2"/>
<text transform="translate(95.11,703.40) scale(1.0,1)" font-family='"Liberation Serif", serif' font-size="8.00" fill="#333" stroke="#333" stroke-width="0.12">N</text>
<path d="M115.2,601.8 L153.9,601.8" fill="none" stroke="#555555" stroke-width="1.15"/>
<path d="M153.9,601.8 A7,7 0 0,1 167.9,601.8 A7,7 0 0,0 181.9,601.8" fill="none" stroke="#555" stroke-width="1.2"/>
<path d="M181.9,601.8 L277.9,601.8 L277.9,634.6" fill="none" stroke="#555555" stroke-width="1.15"/>
<text transform="translate(162.98,590.80) scale(1.0,1)" font-family='"Liberation Serif", serif' font-size="9.50" fill="#333" stroke="#333" stroke-width="0.12">F1</text>
<path d="M206.3,601.8 L206.3,639.2" fill="none" stroke="#555555" stroke-width="1.15"/>
<path d="M206.3,657.4 L206.3,700.4" fill="none" stroke="#555555" stroke-width="1.15"/>
<rect x="202.3" y="639.2" width="8.4" height="18.2" fill="none" stroke="#555" stroke-width="1.1"/>
<path d="M198.1,639 L213.8,653.7 L213.8,662.7" fill="none" stroke="#333" stroke-width="1.1"/>
<text transform="translate(178.57,650.00) scale(0.9,1)" font-family='"Liberation Serif", serif' font-size="8.50" fill="#333" stroke="#333" stroke-width="0.12">MOV</text>
<circle cx="206.3" cy="601.8" r="2.8" fill="#111"/>
<circle cx="206.3" cy="700.4" r="2.8" fill="#111"/>
<path d="M115.2,700.4 L277.9,700.4 L277.9,671.6" fill="none" stroke="#555555" stroke-width="1.15"/>
<path d="M277.9,634.6 L297.2,653 L277.9,671.6 L258.9,653 Z" fill="none" stroke="#222" stroke-width="1.2"/>
<path d="M271,641 L261.7,643.3 L269.8,650.8 Z" fill="#111"/>
<path d="M267.3,637.3 L275.2,644.4" stroke="#111" stroke-width="1.1"/>
<path d="M290.5,646 L280.8,644.4 L288.6,637.1 Z" fill="#111"/>
<path d="M286.4,650.4 L294.6,643" stroke="#111" stroke-width="1.1"/>
<path d="M271,664.6 L261.7,662.8 L269.3,656 Z" fill="#111"/>
<path d="M267.3,668.7 L275.2,662" stroke="#111" stroke-width="1.1"/>
<path d="M290.9,659.8 L281.1,662 L288.6,668.7 Z" fill="#111"/>
<path d="M286.8,656 L294.6,663.5" stroke="#111" stroke-width="1.1"/>
<text transform="translate(291.03,632.00) scale(1.0,1)" font-family='"Liberation Serif", serif' font-size="9.50" fill="#333" stroke="#333" stroke-width="0.12">DB1</text>
<path d="M258.9,653 L239.5,653 L239.5,782" fill="none" stroke="#555555" stroke-width="1.15"/>
<path d="M297.2,653 L316.3,653 L316.3,601.8 L352.9,601.8" fill="none" stroke="#555555" stroke-width="1.15"/>
<path d="M229.5,782 H249.8" stroke="#333" stroke-width="1.2"/>
<path d="M233.8,787.8 H245.9" stroke="#777" stroke-width="1.2"/>
<path d="M237.4,794.1 H242" stroke="#999" stroke-width="1.2"/>
<path d="M352.9,601.8 L352.9,639" fill="none" stroke="#555555" stroke-width="1.15"/>
<rect x="349.4" y="639" width="7" height="20.3" fill="none" stroke="#555" stroke-width="1.1"/>
<path d="M352.9,659.3 L352.9,708.5" fill="none" stroke="#555555" stroke-width="1.15"/>
<rect x="349.4" y="708.5" width="7" height="19.5" fill="none" stroke="#555" stroke-width="1.1"/>
<path d="M352.9,728 L352.9,766.5" fill="none" stroke="#555555" stroke-width="1.15"/>
<circle cx="352.9" cy="601.8" r="2.8" fill="#111"/>
<circle cx="352.9" cy="766.5" r="2.8" fill="#111"/>
<text transform="translate(361.96,651.90) scale(1.0,1)" font-family='"Liberation Serif", serif' font-size="9.50" fill="#333" stroke="#333" stroke-width="0.12">R2</text>
<text transform="translate(361.96,722.30) scale(1.0,1)" font-family='"Liberation Serif", serif' font-size="9.50" fill="#333" stroke="#333" stroke-width="0.12">R3</text>
<path d="M239.5,766.5 L529.8,766.5" fill="none" stroke="#555555" stroke-width="1.15"/>
<circle cx="239.5" cy="766.5" r="2.8" fill="#111"/>
<path d="M352.9,601.8 L379.2,601.8" fill="none" stroke="#555555" stroke-width="1.15"/>
<path d="M379.2,592 L389.59999999999997,601.8 L379.2,611.6 Z" fill="#111"/>
<path d="M389.59999999999997,592 V611.8" stroke="#111" stroke-width="1.2"/>
<path d="M389.0,588.6 L395.59999999999997,582" stroke="#222" stroke-width="1"/>
<path d="M395.59999999999997,582 l-4.2,1.2 l3,3 Z" fill="#222"/>
<path d="M392.8,592.5 L400.0,585.6" stroke="#222" stroke-width="1"/>
<path d="M400.0,585.6 l-4.2,1.2 l3,3 Z" fill="#222"/>
<text transform="translate(377.59,621.80) scale(1.0,1)" font-family='"Liberation Serif", serif' font-size="9.50" fill="#333" stroke="#333" stroke-width="0.12">LED1</text>
<path d="M389.6,601.8 L412.6,601.8" fill="none" stroke="#555555" stroke-width="1.15"/>
<path d="M416,601.8 H515" stroke="#888" stroke-width="1.3" stroke-dasharray="7,4.3"/>
<path d="M515,601.8 L533.2,601.8" fill="none" stroke="#555555" stroke-width="1.15"/>
<path d="M533.2,592 L543.6,601.8 L533.2,611.6 Z" fill="#111"/>
<path d="M543.6,592 V611.8" stroke="#111" stroke-width="1.2"/>
<path d="M543.0,588.6 L549.6,582" stroke="#222" stroke-width="1"/>
<path d="M549.6,582 l-4.2,1.2 l3,3 Z" fill="#222"/>
<path d="M546.8000000000001,592.5 L554.0,585.6" stroke="#222" stroke-width="1"/>
<path d="M554.0,585.6 l-4.2,1.2 l3,3 Z" fill="#222"/>
<text transform="translate(531.59,621.80) scale(1.0,1)" font-family='"Liberation Serif", serif' font-size="9.50" fill="#333" stroke="#333" stroke-width="0.12">LEDn</text>
<path d="M543.6,601.8 L568.3,601.8 L568.3,714.2 L589,714.2" fill="none" stroke="#555555" stroke-width="1.15"/>
<circle cx="568.3" cy="714.2" r="2.8" fill="#111"/>
<path d="M500.3,714.2 L534.7,714.2" fill="none" stroke="#555555" stroke-width="1.15"/>
<path d="M538.4,714.2 L568.3,714.2" fill="none" stroke="#555555" stroke-width="1.15"/>
<path d="M534.7,705 V722 M538.4,705 V722" stroke="#333" stroke-width="1.2"/>
<text transform="translate(529.66,700.80) scale(1.0,1)" font-family='"Liberation Serif", serif' font-size="9.50" fill="#333" stroke="#333" stroke-width="0.12">C1</text>
<path d="M500.3,714.2 L500.3,766.2" fill="none" stroke="#555555" stroke-width="1.15"/>
<circle cx="500.3" cy="740.2" r="2.8" fill="#111"/>
<circle cx="500.3" cy="766.2" r="2.8" fill="#111"/>
<path d="M500.3,740.2 L589,740.2" fill="none" stroke="#555555" stroke-width="1.15"/>
<rect x="529.8" y="763.8" width="20.8" height="5.4" fill="none" stroke="#555" stroke-width="1.1"/>
<path d="M550.6,766.2 L589,766.2" fill="none" stroke="#555555" stroke-width="1.15"/>
<text transform="translate(534.56,760.60) scale(1.0,1)" font-family='"Liberation Serif", serif' font-size="9.50" fill="#333" stroke="#333" stroke-width="0.12">R1</text>
<rect x="589" y="702.5" width="38.3" height="74.7" fill="none" stroke="#444" stroke-width="1.2"/>
<rect x="628" y="711.8" width="13" height="56.6" fill="#161616"/>
<text transform="translate(602.09,699.00) scale(1.0,1)" font-family='"Liberation Serif", serif' font-size="9.50" fill="#333" stroke="#333" stroke-width="0.12">U1</text>
<text transform="translate(578.62,713.00) scale(1.0,1)" font-family='"Liberation Serif", serif' font-size="9.50" fill="#333" stroke="#333" stroke-width="0.12">1</text>
<text transform="translate(592.60,718.00) scale(0.92,1)" font-family='"Liberation Sans", sans-serif' font-size="9.60" fill="#333">OUT</text>
<text transform="translate(578.62,739.00) scale(1.0,1)" font-family='"Liberation Serif", serif' font-size="9.50" fill="#333" stroke="#333" stroke-width="0.12">2</text>
<text transform="translate(592.60,744.00) scale(0.92,1)" font-family='"Liberation Sans", sans-serif' font-size="9.60" fill="#333">GND</text>
<text transform="translate(578.62,765.00) scale(1.0,1)" font-family='"Liberation Serif", serif' font-size="9.50" fill="#333" stroke="#333" stroke-width="0.12">3</text>
<text transform="translate(592.60,770.00) scale(0.92,1)" font-family='"Liberation Sans", sans-serif' font-size="9.60" fill="#333">REXT</text>
<text transform="translate(586.69,789.20) scale(0.92,1)" font-family='"Liberation Serif", serif' font-size="9.50" fill="#333" stroke="#333" stroke-width="0.12">CYT1000DE</text>
<path d="M0,799.5 H696" stroke="#dedede" stroke-width="1"/>
</svg></body></html>
